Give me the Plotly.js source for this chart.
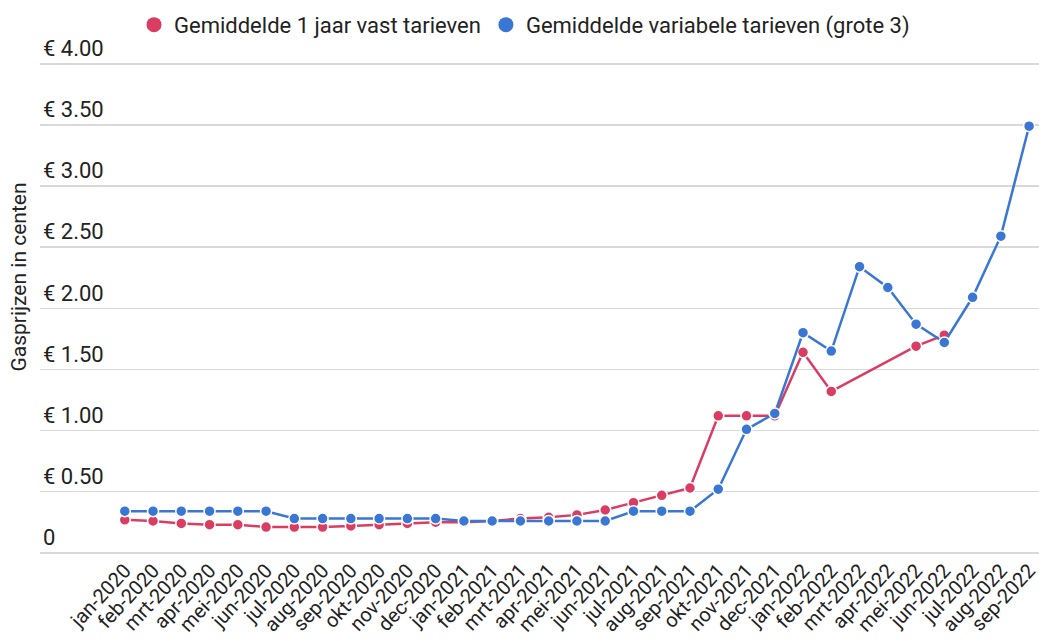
<!DOCTYPE html>
<html>
<head>
<meta charset="utf-8">
<script src="https://cdn.plot.ly/plotly-3.0.1.min.js"></script>
<style>html,body{margin:0;padding:0;background:#fff;}#chart{width:1039px;height:642px;}</style>
</head>
<body>
<div id="chart"></div>
<script>
const months = ["jan-2020","feb-2020","mrt-2020","apr-2020","mei-2020","jun-2020","jul-2020","aug-2020","sep-2020","okt-2020","nov-2020","dec-2020",
"jan-2021","feb-2021","mrt-2021","apr-2021","mei-2021","jun-2021","jul-2021","aug-2021","sep-2021","okt-2021","nov-2021","dec-2021",
"jan-2022","feb-2022","mrt-2022","apr-2022","mei-2022","jun-2022","jul-2022","aug-2022","sep-2022"];

const vastTarief = [0.27,0.26,0.24,0.23,0.23,0.21,0.21,0.21,0.22,0.23,0.24,0.25,
0.25,0.26,0.28,0.29,0.31,0.35,0.41,0.47,0.53,1.12,1.12,1.12,
1.64,1.32,null,null,1.69,1.78,null,null,null];

const variabelTarief = [0.34,0.34,0.34,0.34,0.34,0.34,0.28,0.28,0.28,0.28,0.28,0.28,
0.26,0.26,0.26,0.26,0.26,0.26,0.34,0.34,0.34,0.52,1.01,1.14,
1.80,1.65,2.34,2.17,1.87,1.72,2.09,2.59,3.49];

const seriesNames = ["Gemiddelde 1 jaar vast tarieven","Gemiddelde variabele tarieven (grote 3)"];
const yTickVals = [0,0.5,1,1.5,2,2.5,3,3.5,4];
const yTickText = ["0","€ 0.50","€ 1.00","€ 1.50","€ 2.00","€ 2.50","€ 3.00","€ 3.50","€ 4.00"];

const red = "#db3c62", blue = "#3a77d5";
function tr(y, name, color){
  return {x: months, y: y, name: name, type: "scatter", mode: "lines+markers",
    connectgaps: true, showlegend: false, legendgroup: name,
    line: {color: color, width: 2.5},
    marker: {color: color, size: 11, line: {color: "#ffffff", width: 1.5}}};
}
function legendTr(name, color){
  return {x: [null], y: [null], name: name, type: "scatter", mode: "markers",
    legendgroup: name, showlegend: true,
    marker: {color: color, size: 15}};
}
const data = [tr(vastTarief, seriesNames[0], red), tr(variabelTarief, seriesNames[1], blue),
  legendTr(seriesNames[0], red), legendTr(seriesNames[1], blue)];

const layout = {
  width: 1039, height: 642,
  margin: {l: 40, r: 0, t: 0, b: 88},
  paper_bgcolor: "#fff", plot_bgcolor: "rgba(0,0,0,0)",
  font: {family: "Roboto, Arial, sans-serif", color: "#222", size: 21},
  showlegend: true,
  legend: {orientation: "h", x: 0.485, xanchor: "center", y: 0.993, yanchor: "top",
    font: {size: 22, color: "#222"}, itemwidth: 30, tracegroupgap: 0, bgcolor: "rgba(0,0,0,0)"},
  xaxis: {type: "category", range: [-3.0, 32.35], tickangle: -47, tickfont: {size: 20, color: "#222"},
    showgrid: false, zeroline: false, showline: false, ticks: "", automargin: false},
  yaxis: {range: [-0.01, 4.5217], tickvals: yTickVals, ticktext: yTickText, ticklabelposition: "inside top",
    tickfont: {size: 22, color: "#222"}, showgrid: true, gridcolor: "#d9d9d9", gridwidth: 1.5,
    zeroline: false, showline: false, ticks: "", automargin: false,
    title: {text: "Gasprijzen in centen", font: {size: 21, color: "#222"}, standoff: 10}}
};
Plotly.newPlot("chart", data, layout, {displayModeBar: false, staticPlot: true});
</script>
</body>
</html>
